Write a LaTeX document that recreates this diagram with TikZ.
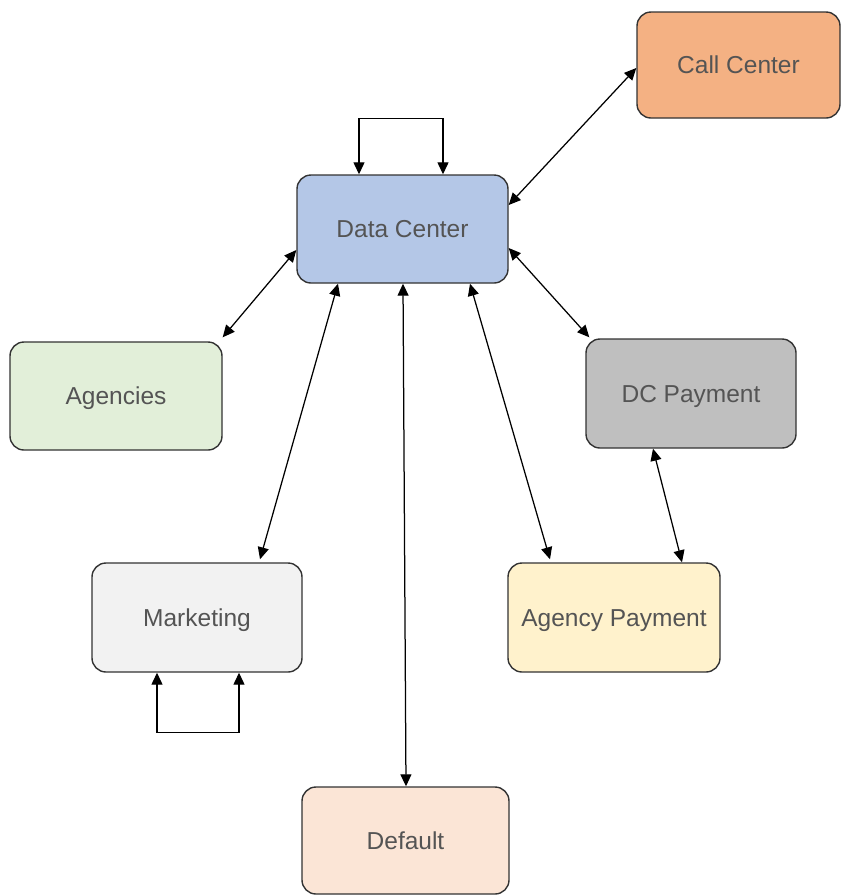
\documentclass[tikz,border=0pt]{standalone}
\usepackage{fontspec}
\setmainfont{Liberation Sans}
\usetikzlibrary{arrows.meta,calc}
\definecolor{ccfill}{HTML}{F4B183}
\definecolor{dcfill}{HTML}{B4C7E7}
\definecolor{agfill}{HTML}{E2EFD9}
\definecolor{dpfill}{HTML}{BFBFBF}
\definecolor{mkfill}{HTML}{F2F2F2}
\definecolor{apfill}{HTML}{FFF2CC}
\definecolor{dffill}{HTML}{FBE5D6}
\definecolor{boxline}{HTML}{333333}
\definecolor{txt}{HTML}{545454}
\begin{document}
\begin{tikzpicture}[x=1pt,y=-1pt,
  box/.style={draw=boxline,line width=1.4pt,rounded corners=14pt,inner sep=0pt,
    text=txt,font=\fontsize{24.5}{29}\selectfont,text height=17.5pt,text depth=0pt},
  link/.style={line width=1.25pt,draw=black,{Triangle[length=12pt,width=11pt]}-{Triangle[length=12pt,width=11pt]}}]
\fill[white] (0,0) rectangle (842,895);
\useasboundingbox (0,0) rectangle (842,895);

\node[box,fill=ccfill,minimum width=203pt,minimum height=106pt] (cc) at (738.5,65) {Call Center};
\node[box,fill=dcfill,minimum width=211pt,minimum height=108pt] (dc) at (402.5,229) {Data Center};
\node[box,fill=agfill,minimum width=212pt,minimum height=108pt] (ag) at (116,396) {Agencies};
\node[box,fill=dpfill,minimum width=210pt,minimum height=109pt] (dp) at (691,393.5) {DC Payment};
\node[box,fill=mkfill,minimum width=210pt,minimum height=109pt] (mk) at (197,617.5) {Marketing};
\node[box,fill=apfill,minimum width=212pt,minimum height=109pt] (ap) at (614,617.5) {Agency Payment};
\node[box,fill=dffill,minimum width=207pt,minimum height=107pt] (df) at (405.5,840.5) {Default};

% self loop on Data Center
\draw[link] ($(dc.north)+(-43.5,0)$) -- ++(0,-56) -| ($(dc.north)+(40.5,0)$);
% self loop on Marketing
\draw[link] ($(mk.south)+(-40,0)$) -- ++(0,60) -| ($(mk.south)+(42,0)$);

\draw[link] ($(dc.east)+(0,-24)$) -- ($(cc.west)+(0,3)$);
\draw[link] ($(dc.west)+(0,21)$) -- ($(ag.north east)+(0,-4)$);
\draw[link] ($(dc.east)+(0,19)$) -- ($(dp.north west)+(4,-1)$);
\draw[link] ($(dc.south)+(-64.5,0)$) -- ($(mk.north)+(63,-3)$);
\draw[link] ($(dc.south)+(0.5,0)$) -- ($(df.north)+(0.5,0)$);
\draw[link] ($(dc.south)+(67.5,0)$) -- ($(ap.north)+(-64,-3)$);
\draw[link] ($(dp.south)+(-38,0)$) -- ($(ap.north)+(68,0)$);
\end{tikzpicture}
\end{document}
